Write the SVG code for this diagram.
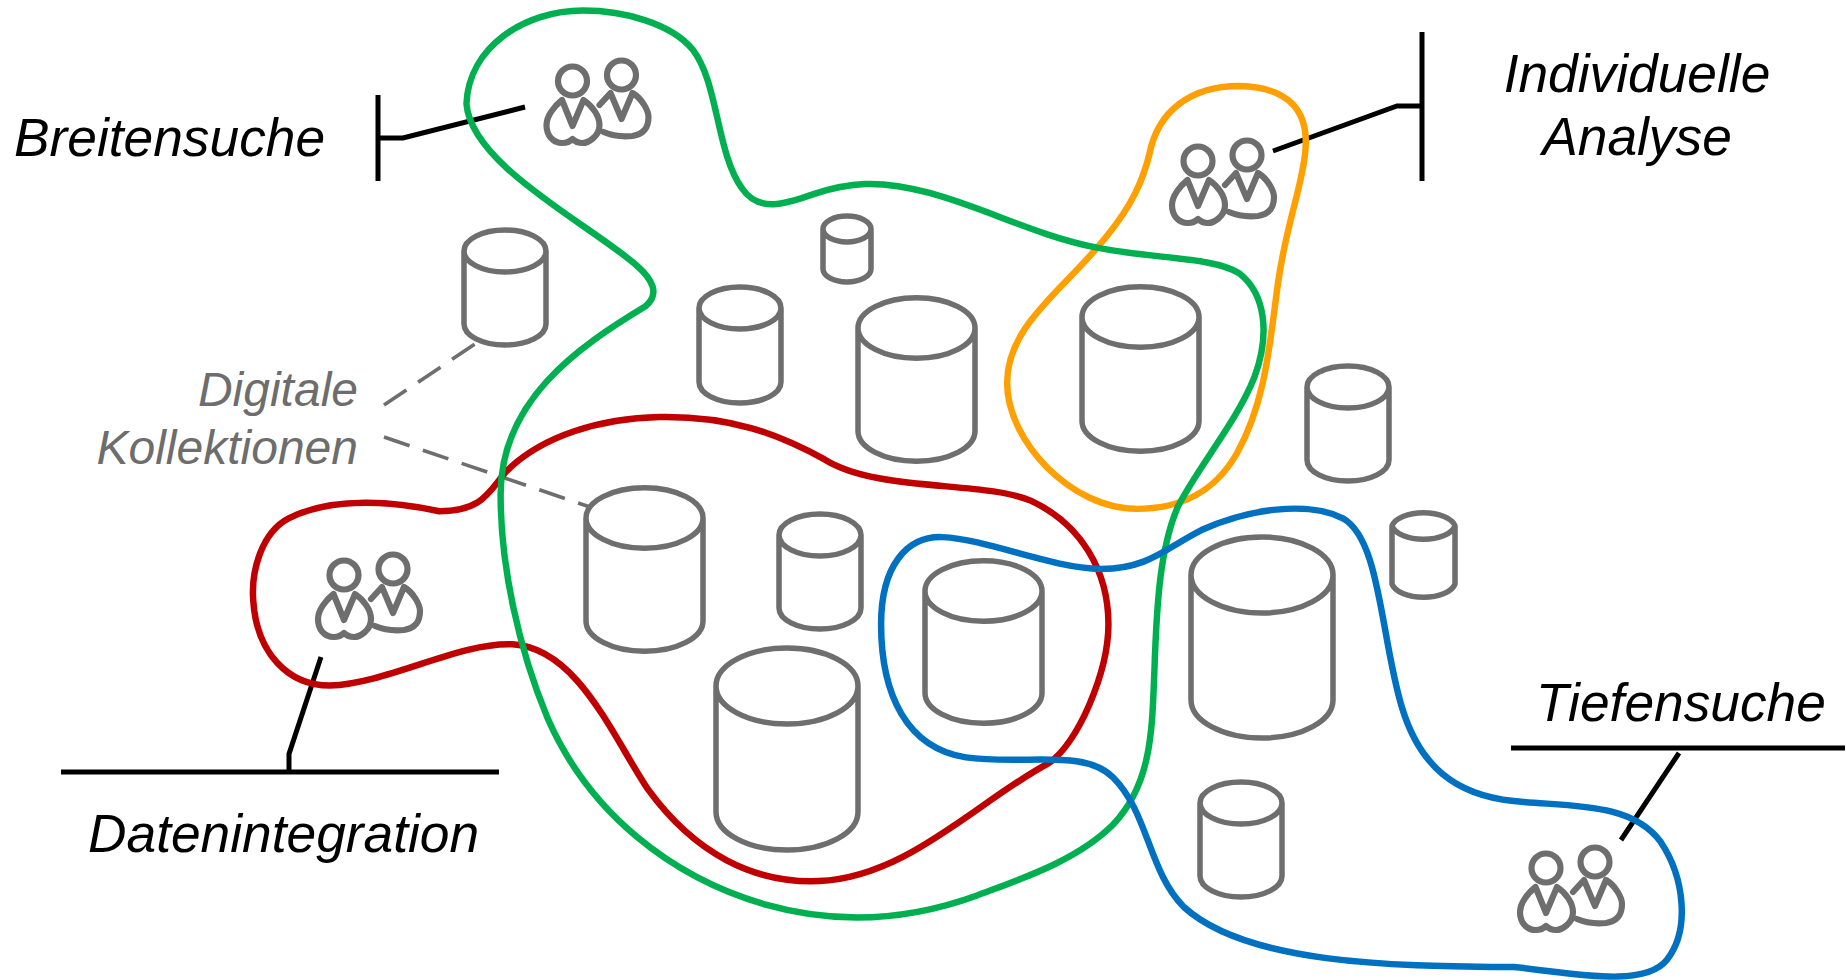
<svg xmlns="http://www.w3.org/2000/svg" width="1847" height="980" viewBox="0 0 1847 980">
<style>
text{font-family:"Liberation Sans",Arial,sans-serif;font-style:italic;fill:#000}
.big{font-size:53.3px}
.mid{font-size:48px;fill:#6d6d6d;text-anchor:end}
.ctr{text-anchor:middle}
.cyl{fill:none;stroke:#6e6e6e;stroke-width:5.5;stroke-linejoin:round}
.ic{fill:none;stroke:#6e6e6e;stroke-width:6.2;stroke-linejoin:round;stroke-linecap:round}
.lead{fill:none;stroke:#000;stroke-width:5}
.dash{fill:none;stroke:#6e6e6e;stroke-width:3.6;stroke-dasharray:27 14}
.area{fill:none;stroke-width:5.5}
</style>
<defs>
<g id="people" class="ic">
<circle cx="0" cy="0" r="14.5"/>
<circle cx="49" cy="-6" r="14.5"/>
<path d="M-10.5,19L0,45L11,19C20,25 27,35 27,44C27,56 15,62 10,62C6,62 2,60 0,58C-2,60 -6,62 -10,62C-20,62 -26,54 -26,44C-26,35 -18,25 -10.5,19Z"/>
<path d="M27,24L38,12L49,38L60,12C70,18 76,30 76,36C76,46 72,53 60,55C50,56 38,54 31,51"/>
</g>
</defs>
<g id="connectors">
<path class="dash" d="M384,405L475,344"/>
<path class="dash" d="M384,437L590,507"/>
<path class="lead" d="M378,95V181M378,138H403L525,107"/>
<path class="lead" d="M1422,32V181M1422,106H1397L1273,151"/>
<path class="lead" d="M61,772H499M289,772V754L321,657"/>
<path class="lead" d="M1511,748H1845M1679,753L1621,840"/>
</g>
<g id="cylinders">
<path id="cyl1" class="cyl" d="M464,251A41,21 0 0 1 546,251A41,21 0 0 1 464,251V324A41,21 0 0 0 546,324V251"/>
<path id="cyl2" class="cyl" d="M823,229A24,13 0 0 1 871,229A24,13 0 0 1 823,229V269A24,13 0 0 0 871,269V229"/>
<path id="cyl3" class="cyl" d="M699,308A41,21 0 0 1 781,308A41,21 0 0 1 699,308V382A41,21 0 0 0 781,382V308"/>
<path id="cyl4" class="cyl" d="M858,328A58,30 0 0 1 975,328A58,30 0 0 1 858,328V431A58,30 0 0 0 975,431V328"/>
<path id="cyl5" class="cyl" d="M1082,317A58,30 0 0 1 1199,317A58,30 0 0 1 1082,317V421A58,30 0 0 0 1199,421V317"/>
<path id="cyl6" class="cyl" d="M1307,387A41,21 0 0 1 1389,387A41,21 0 0 1 1307,387V460A41,21 0 0 0 1389,460V387"/>
<path id="cyl7" class="cyl" d="M1392,526A32,16 0 0 1 1455,526A32,16 0 0 1 1392,526V584A32,16 0 0 0 1455,584V526"/>
<path id="cyl8" class="cyl" d="M586,518A58,30 0 0 1 703,518A58,30 0 0 1 586,518V621A58,30 0 0 0 703,621V518"/>
<path id="cyl9" class="cyl" d="M779,535A41,21 0 0 1 861,535A41,21 0 0 1 779,535V608A41,21 0 0 0 861,608V535"/>
<path id="cyl10" class="cyl" d="M925,591A58,30 0 0 1 1042,591A58,30 0 0 1 925,591V693A58,30 0 0 0 1042,693V591"/>
<path id="cyl11" class="cyl" d="M1191,575A71,38 0 0 1 1333,575A71,38 0 0 1 1191,575V700A71,38 0 0 0 1333,700V575"/>
<path id="cyl12" class="cyl" d="M716,686A71,38 0 0 1 858,686A71,38 0 0 1 716,686V812A71,38 0 0 0 858,812V686"/>
<path id="cyl13" class="cyl" d="M1200,803A41,21 0 0 1 1282,803A41,21 0 0 1 1200,803V876A41,21 0 0 0 1282,876V803"/>
</g>
<g id="areas" transform="scale(1.17793)">
<path id="area-red" class="area" stroke="#c00000" d="M373 434C340 427 285 420 245 440C222 452 213 485 215 510C218 555 245 582 280 582C330 580 390 545 435 547C490 550 520 625 550 670C590 725 640 750 695 748C770 745 830 680 890 648C915 632 941 570 941 530C941 485 918 445 875 425C835 408 745 418 700 390C660 368 620 353 560 354C510 355 460 370 430 400C415 417 410 434 373 434Z"/>
<path id="area-orange" class="area" stroke="#ffa000" d="M976 130C983 95 1010 73 1052 73C1095 74 1112 95 1108 130C1105 160 1092 190 1085 240C1078 290 1075 340 1050 385C1030 420 1000 432 965 432C910 432 855 375 855 325C855 275 905 245 940 200C960 175 970 155 976 130Z"/>
<path id="area-green" class="area" stroke="#00b050" d="M396 88C398 40 445 9 495 9C530 9 570 20 588 42C610 70 608 130 630 160C645 182 670 172 690 165C720 155 745 152 790 164C840 178 880 200 930 210C980 220 1030 218 1052 232C1075 250 1078 285 1065 320C1050 358 1018 395 1000 430C985 465 982 510 980 570C978 620 978 665 945 700C915 730 870 745 830 760C770 782 710 785 650 768C570 745 500 690 465 610C440 550 425 480 425 420C425 340 490 295 548 260C560 250 555 238 540 225C500 190 400 140 396 88Z"/>
<path id="area-blue" class="area" stroke="#0070c0" d="M748 530C748 480 770 455 800 456C840 458 890 482 935 483C975 483 990 465 1020 450C1060 432 1110 425 1140 440C1172 458 1172 540 1190 600C1205 650 1235 675 1285 680C1330 685 1385 680 1410 715C1430 745 1435 790 1415 815C1395 840 1330 825 1285 821C1190 820 1060 820 1005 770C975 740 975 690 945 660C920 635 870 650 820 643C770 635 748 590 748 530Z"/>
</g>
<g id="people-breitensuche"><use href="#people" x="572.5" y="81"/></g>
<g id="people-individuelle"><use href="#people" x="1198" y="161"/></g>
<g id="people-integration"><use href="#people" x="344" y="575"/></g>
<g id="people-tiefensuche"><use href="#people" x="1546" y="868"/></g>
<g id="labels">
<text class="big" x="14" y="156">Breitensuche</text>
<text class="big ctr" x="1637" y="92">Individuelle</text>
<text class="big ctr" x="1637" y="155">Analyse</text>
<text class="big" x="1536" y="721">Tiefensuche</text>
<text class="big" x="88" y="852">Datenintegration</text>
<text class="mid" x="358" y="406">Digitale</text>
<text class="mid" x="358" y="464">Kollektionen</text>
</g>
</svg>
